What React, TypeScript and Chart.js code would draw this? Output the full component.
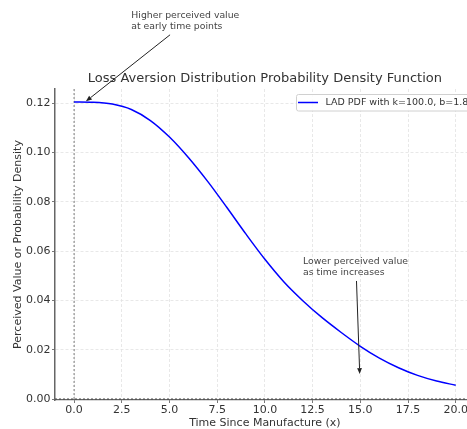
import React, { useEffect, useRef } from "react";
import { Chart, registerables } from "chart.js";

Chart.register(...registerables);

const xValues = [0, 1, 2, 3, 4, 5, 6, 7, 8, 9, 10, 11, 12, 13, 14, 15, 16, 17, 18, 19, 20];
const pdfValues = [
  0.1205, 0.1204, 0.1197, 0.1175, 0.113, 0.1063, 0.0979, 0.0883, 0.0778, 0.067, 0.0567,
  0.0475, 0.0398, 0.033, 0.027, 0.0214, 0.0166, 0.0127, 0.0096, 0.0073, 0.0056,
];
const xTicks = [0, 2.5, 5, 7.5, 10, 12.5, 15, 17.5, 20];
const yTicks = [0, 0.02, 0.04, 0.06, 0.08, 0.1, 0.12];

const titleText = "Loss Aversion Distribution Probability Density Function";
const xLabel = "Time Since Manufacture (x)";
const yLabel = "Perceived Value or Probability Density";
const legendLabel = "LAD PDF with k=100.0, b=1.8";

const annotations = [
  { lines: ["Higher perceived value", "at early time points"], textX: 3.0, textY: 0.1555, fromX: 5.03, fromY: 0.1478, toX: 0.62, toY: 0.1208 },
  { lines: ["Lower perceived value", "as time increases"], textX: 12.0, textY: 0.0556, fromX: 14.8, fromY: 0.0479, toX: 14.97, toY: 0.0101 },
];

const FONT = "'DejaVu Sans', 'Liberation Sans', sans-serif";

const decor = {
  id: "decor",
  beforeDatasetsDraw(chart: any) {
    const { ctx, chartArea, scales } = chart;
    const x0 = scales.x.getPixelForValue(0);
    const y0 = scales.y.getPixelForValue(0);
    ctx.save();
    ctx.setLineDash([2, 2]);
    ctx.lineWidth = 1;
    ctx.strokeStyle = "#7a7a7a";
    ctx.beginPath();
    ctx.moveTo(x0, chartArea.top);
    ctx.lineTo(x0, chartArea.bottom);
    ctx.stroke();
    ctx.strokeStyle = "#444";
    ctx.beginPath();
    ctx.moveTo(chartArea.left, y0);
    ctx.lineTo(chartArea.right, y0);
    ctx.stroke();
    ctx.restore();
  },
  afterDraw(chart: any) {
    const { ctx, chartArea, scales } = chart;
    const cx = (chartArea.left + chartArea.right) / 2;
    const cy = (chartArea.top + chartArea.bottom) / 2;
    ctx.save();
    ctx.fillStyle = "#333";
    ctx.textBaseline = "middle";
    // title
    ctx.font = `13px ${FONT}`;
    ctx.textAlign = "center";
    ctx.fillText(titleText, cx, 79);
    // x label
    ctx.font = `11px ${FONT}`;
    ctx.fillText(xLabel, cx, 423);
    // y label
    ctx.save();
    ctx.translate(18.5, cy);
    ctx.rotate(-Math.PI / 2);
    ctx.fillText(yLabel, 0, 0);
    ctx.restore();

    // legend
    const lx = 296, ly = 94, lw = 200, lh = 16.5;
    ctx.fillStyle = "rgba(255,255,255,0.85)";
    ctx.strokeStyle = "#d0d0d0";
    ctx.lineWidth = 1;
    ctx.beginPath();
    ctx.roundRect(lx + 0.5, ly + 0.5, lw, lh, 2);
    ctx.fill();
    ctx.stroke();
    ctx.strokeStyle = "#0000ff";
    ctx.lineWidth = 1.5;
    ctx.beginPath();
    ctx.moveTo(298, 102.5);
    ctx.lineTo(318, 102.5);
    ctx.stroke();
    ctx.fillStyle = "#333";
    ctx.textAlign = "left";
    ctx.font = `9.5px ${FONT}`;
    ctx.fillText(legendLabel, 325.5, 102.5);

    // annotations
    ctx.font = `9.3px ${FONT}`;
    for (const a of annotations) {
      const tx = scales.x.getPixelForValue(a.textX);
      const ty = scales.y.getPixelForValue(a.textY);
      ctx.fillStyle = "#444";
      a.lines.forEach((t, i) => ctx.fillText(t, tx, ty + i * 10.7));
      const fx = scales.x.getPixelForValue(a.fromX);
      const fy = scales.y.getPixelForValue(a.fromY);
      const px = scales.x.getPixelForValue(a.toX);
      const py = scales.y.getPixelForValue(a.toY);
      const ang = Math.atan2(py - fy, px - fx);
      const hl = 6, hw = 2.4;
      const bx = px - hl * Math.cos(ang);
      const by = py - hl * Math.sin(ang);
      ctx.strokeStyle = "#222";
      ctx.lineWidth = 1;
      ctx.beginPath();
      ctx.moveTo(fx, fy);
      ctx.lineTo(bx, by);
      ctx.stroke();
      ctx.fillStyle = "#222";
      ctx.beginPath();
      ctx.moveTo(px, py);
      ctx.lineTo(bx + hw * Math.sin(ang), by - hw * Math.cos(ang));
      ctx.lineTo(bx - hw * Math.sin(ang), by + hw * Math.cos(ang));
      ctx.closePath();
      ctx.fill();
    }
    ctx.restore();
  },
};

export default function App() {
  const ref = useRef<HTMLCanvasElement>(null);
  useEffect(() => {
    if (!ref.current) return;
    const chart = new Chart(ref.current, {
      type: "line",
      data: {
        datasets: [
          {
            label: legendLabel,
            data: xValues.map((x, i) => ({ x, y: pdfValues[i] })),
            borderColor: "#0000ff",
            borderWidth: 1.5,
            pointRadius: 0,
            cubicInterpolationMode: "monotone",
            fill: false,
          },
        ],
      },
      options: {
        responsive: false,
        animation: false,
        layout: { padding: { left: 0, top: 89, right: 15.2, bottom: 0 } },
        plugins: { legend: { display: false }, title: { display: false }, tooltip: { enabled: false } },
        scales: {
          x: {
            type: "linear",
            min: -1,
            max: 21,
            afterFit: (s: any) => { s.height = 29; },
            afterBuildTicks: (s: any) => { s.ticks = xTicks.map((v) => ({ value: v })); },
            ticks: {
              autoSkip: false,
              maxRotation: 0,
              padding: 1,
              color: "#333",
              font: { family: FONT, size: 11 },
              callback: (v: any) => Number(v).toFixed(1),
            },
            grid: {
              color: "#e2e2e2",
              lineWidth: 0.8,
              tickColor: "#555",
              tickLength: 3,
              tickBorderDash: [],
            },
            border: { color: "#666", width: 1.2, dash: [3, 2] },
          },
          y: {
            type: "linear",
            min: -0.0004,
            max: 0.1258,
            afterFit: (s: any) => { s.width = 55; },
            afterBuildTicks: (s: any) => { s.ticks = yTicks.map((v) => ({ value: v })); },
            ticks: {
              padding: 1.5,
              color: "#333",
              font: { family: FONT, size: 11 },
              callback: (v: any) => Number(v).toFixed(2),
            },
            grid: {
              color: "#e2e2e2",
              lineWidth: 0.8,
              tickColor: "#555",
              tickLength: 3,
              tickBorderDash: [],
            },
            border: { color: "#666", width: 1.5, dash: [3, 2] },
          },
        },
      } as any,
      plugins: [decor],
    });
    return () => chart.destroy();
  }, []);
  return (
    <div style={{ position: "fixed", left: 0, top: 0, width: 467, height: 429, overflow: "hidden", background: "#fff" }}>
      <canvas ref={ref} width={490} height={429} style={{ display: "block" }} />
    </div>
  );
}
